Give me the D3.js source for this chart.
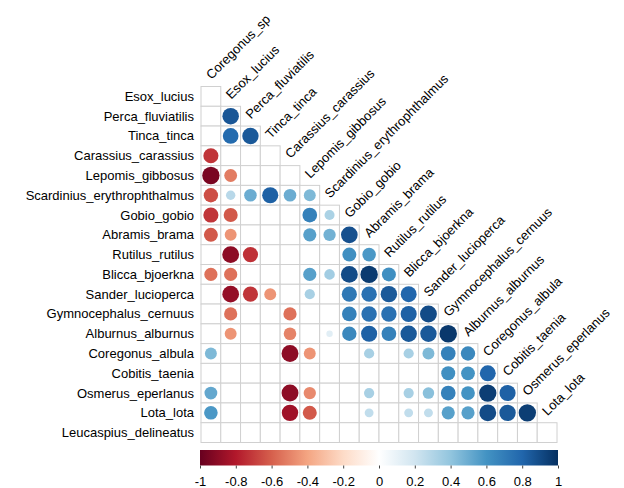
<!DOCTYPE html>
<html>
<head>
<meta charset="utf-8">
<script src="https://cdn.jsdelivr.net/npm/d3@7"></script>
<style>
  html, body { margin: 0; padding: 0; background: #fff; }
  svg { display: block; font-family: "Liberation Sans", Arial, sans-serif; }
</style>
</head>
<body>
<svg id="chart" width="624" height="488"></svg>
<script>
// Species shown down the rows (lower triangle, diagonal omitted)
const rowLabels = [
  "Esox_lucius", "Perca_fluviatilis", "Tinca_tinca", "Carassius_carassius",
  "Lepomis_gibbosus", "Scardinius_erythrophthalmus", "Gobio_gobio", "Abramis_brama",
  "Rutilus_rutilus", "Blicca_bjoerkna", "Sander_lucioperca", "Gymnocephalus_cernuus",
  "Alburnus_alburnus", "Coregonus_albula", "Cobitis_taenia", "Osmerus_eperlanus",
  "Lota_lota", "Leucaspius_delineatus"
];

// Species shown across the columns
const colLabels = [
  "Coregonus_sp", "Esox_lucius", "Perca_fluviatilis", "Tinca_tinca",
  "Carassius_carassius", "Lepomis_gibbosus", "Scardinius_erythrophthalmus", "Gobio_gobio",
  "Abramis_brama", "Rutilus_rutilus", "Blicca_bjoerkna", "Sander_lucioperca",
  "Gymnocephalus_cernuus", "Alburnus_alburnus", "Coregonus_albula", "Cobitis_taenia",
  "Osmerus_eperlanus", "Lota_lota"
];

// Correlation coefficients, one array per row; null = not shown
const _ = null;
const corrRows = [
  [_],
  [_, 0.86],
  [_, 0.78, 0.85],
  [-0.72, _, _, _],
  [-0.95, -0.52, _, _, _],
  [-0.65, 0.28, 0.50, 0.82, 0.50, 0.45],
  [-0.72, -0.62, _, _, _, 0.68, 0.32],
  [-0.62, -0.45, _, _, _, 0.55, 0.48, 0.88],
  [_, -0.90, -0.73, _, _, _, _, 0.62, 0.58],
  [-0.55, -0.55, _, _, _, 0.55, 0.35, 0.90, 0.96, 0.62],
  [_, -0.88, -0.72, -0.45, _, 0.33, _, 0.72, 0.75, 0.85, 0.80],
  [_, -0.55, _, _, -0.55, _, _, 0.68, 0.75, 0.75, 0.82, 0.90],
  [_, -0.45, _, _, -0.50, _, 0.13, 0.65, 0.82, 0.68, 0.85, 0.85, 0.97],
  [0.45, _, _, _, -0.90, -0.45, _, _, 0.33, _, 0.33, 0.45, 0.68, 0.65],
  [_, _, _, _, _, _, _, _, _, _, _, _, 0.62, 0.60, 0.80],
  [0.52, _, _, _, -0.90, -0.48, _, _, 0.33, _, 0.33, 0.42, 0.68, 0.60, 0.95, 0.82],
  [0.58, _, _, _, -0.85, -0.62, _, _, 0.25, _, 0.25, 0.25, 0.55, 0.55, 0.90, 0.85, 0.95],
  [_, _, _, _, _, _, _, _, _, _, _, _, _, _, _, _, _, _]
];

// Colour bar ticks
const legendTicks = [-1, -0.8, -0.6, -0.4, -0.2, 0, 0.2, 0.4, 0.6, 0.8, 1];

// Diverging red-blue palette
const paletteStops = ["#67001F", "#B2182B", "#D6604D", "#F4A582", "#FDDBC7", "#FFFFFF",
                      "#D1E5F0", "#92C5DE", "#4393C3", "#2166AC", "#053061"];

const svg = d3.select("#chart");

const gridLeft = 201, gridTop = 86.5, gridSize = 356;

const x = d3.scaleBand().domain(colLabels).range([gridLeft, gridLeft + gridSize]).padding(0);
const y = d3.scaleBand().domain(rowLabels).range([gridTop, gridTop + gridSize]).padding(0);
const cell = x.bandwidth();

const color = d3.scaleLinear()
  .domain(d3.range(paletteStops.length).map(i => -1 + i * 2 / (paletteStops.length - 1)))
  .range(paletteStops)
  .interpolate(d3.interpolateRgb);

const radius = v => 0.45 * Math.sqrt(Math.abs(v)) * cell;

// Flatten to cells
const cells = [];
corrRows.forEach((row, i) => {
  row.forEach((v, j) => {
    cells.push({ row: rowLabels[i], col: colLabels[j], value: v });
  });
});

// Grid
svg.append("g")
  .selectAll("rect")
  .data(cells)
  .join("rect")
  .attr("x", d => x(d.col))
  .attr("y", d => y(d.row))
  .attr("width", cell)
  .attr("height", cell)
  .attr("fill", "#fff")
  .attr("stroke", "#d0d0d0")
  .attr("stroke-width", 1);

// Circles
svg.append("g")
  .selectAll("circle")
  .data(cells.filter(d => d.value !== null))
  .join("circle")
  .attr("cx", d => x(d.col) + cell / 2)
  .attr("cy", d => y(d.row) + cell / 2)
  .attr("r", d => radius(d.value))
  .attr("fill", d => color(d.value));

// Row labels
svg.append("g")
  .selectAll("text")
  .data(rowLabels)
  .join("text")
  .attr("x", gridLeft - 7)
  .attr("y", d => y(d) + cell / 2)
  .attr("dy", "0.35em")
  .attr("text-anchor", "end")
  .attr("font-size", 13)
  .attr("fill", "#000")
  .text(d => d);

// Column labels, placed on the diagonal above each column's first cell
svg.append("g")
  .selectAll("text")
  .data(colLabels)
  .join("text")
  .attr("transform", (d, j) => {
    const tx = x(d) + cell / 2 + 0.5;
    const ty = y(rowLabels[j]) - 6.5;
    return `translate(${tx},${ty}) rotate(-45)`;
  })
  .attr("text-anchor", "start")
  .attr("font-size", 13)
  .attr("fill", "#000")
  .text(d => d);

// Colour bar
const legendX = d3.scaleLinear().domain([-1, 1]).range([200, 558]);
const barTop = 450, barH = 15.5;

const defs = svg.append("defs");
const grad = defs.append("linearGradient").attr("id", "corrGrad")
  .attr("x1", "0%").attr("x2", "100%").attr("y1", "0%").attr("y2", "0%");
grad.selectAll("stop")
  .data(color.domain())
  .join("stop")
  .attr("offset", d => ((d + 1) / 2 * 100) + "%")
  .attr("stop-color", d => color(d));

svg.append("rect")
  .attr("x", legendX(-1))
  .attr("y", barTop)
  .attr("width", legendX(1) - legendX(-1))
  .attr("height", barH)
  .attr("fill", "url(#corrGrad)");

const axis = d3.axisBottom(legendX)
  .tickValues(legendTicks)
  .tickSize(3)
  .tickPadding(8)
  .tickFormat(d => String(+d.toFixed(1)));

const axG = svg.append("g")
  .attr("transform", `translate(0,${barTop + barH})`)
  .call(axis);
axG.select(".domain").remove();
axG.selectAll(".tick line").attr("stroke", "#444");
axG.selectAll(".tick text")
  .attr("font-size", 13)
  .attr("font-family", "Liberation Sans, Arial, sans-serif")
  .attr("fill", "#000");
</script>
</body>
</html>
